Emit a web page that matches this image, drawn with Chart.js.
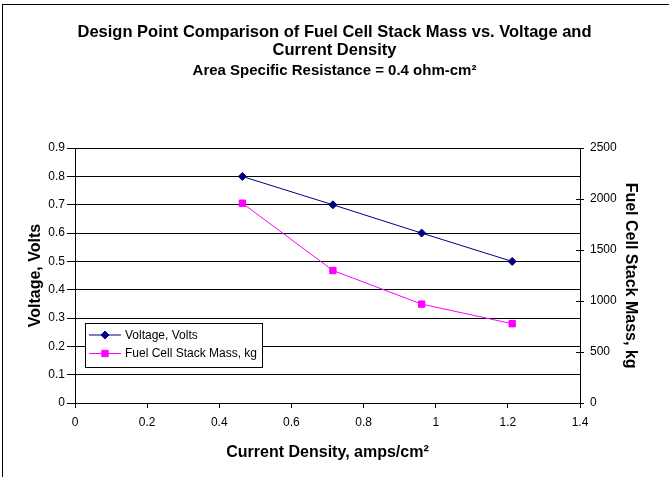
<!DOCTYPE html>
<html>
<head>
<meta charset="utf-8">
<script src="https://cdn.jsdelivr.net/npm/chart.js@4/dist/chart.umd.min.js"></script>
<style>
  html, body { margin: 0; padding: 0; background: #fff; }
  #wrap { width: 669px; height: 477px; position: relative; }
</style>
</head>
<body>
<div id="wrap"><canvas id="c" width="669" height="477"></canvas></div>
<script>
// ---- data ----
const titleLines = ["Design Point Comparison of Fuel Cell Stack Mass vs. Voltage and", "Current Density"];
const subtitleText = "Area Specific Resistance = 0.4 ohm-cm\u00B2";
const xAxisTitle = "Current Density, amps/cm\u00B2";
const yAxisTitle = "Voltage, Volts";
const y2AxisTitle = "Fuel Cell Stack Mass, kg";
const seriesNames = ["Voltage, Volts", "Fuel Cell Stack Mass, kg"];
const currentDensity = [0.464, 0.715, 0.961, 1.212];
const voltage = [0.8, 0.7, 0.6, 0.5];
const stackMass = [1960, 1300, 970, 778];

const FONT = "'Liberation Sans', Arial, sans-serif";
const fmt = v => String(Math.round(v * 1000) / 1000);

const framePlugin = {
  id: 'frame',
  beforeDraw(chart) {
    const ctx = chart.ctx;
    ctx.save();
    ctx.fillStyle = '#fff';
    ctx.fillRect(0, 0, chart.width, chart.height);
    ctx.restore();
  },
  afterDraw(chart) {
    const ctx = chart.ctx;
    ctx.save();
    ctx.strokeStyle = '#000';
    ctx.lineWidth = 1;
    ctx.strokeRect(2.5, 4.5, 720, 520);
    // inner halves of the crossing tick marks on the right axis
    const s = chart.scales.y2;
    ctx.beginPath();
    s.ticks.forEach(t => {
      const y = Math.round(s.getPixelForValue(t.value)) + 0.5;
      ctx.moveTo(s.left - 4, y);
      ctx.lineTo(s.left, y);
    });
    ctx.stroke();
    ctx.restore();
  }
};

const legendPlugin = {
  id: 'boxLegend',
  afterDatasetsDraw(chart) {
    const ctx = chart.ctx;
    const box = { x: 85.5, y: 323.5, w: 177, h: 44 };
    ctx.save();
    ctx.fillStyle = '#fff';
    ctx.fillRect(box.x, box.y, box.w, box.h);
    ctx.strokeStyle = '#000';
    ctx.lineWidth = 1;
    ctx.strokeRect(box.x, box.y, box.w, box.h);
    ctx.font = "12px " + FONT;
    ctx.textBaseline = 'middle';
    chart.data.datasets.forEach((ds, i) => {
      const cy = 335 + i * 18.5;
      ctx.strokeStyle = ds.borderColor;
      ctx.lineWidth = 1;
      ctx.beginPath();
      ctx.moveTo(89, cy);
      ctx.lineTo(121, cy);
      ctx.stroke();
      ctx.fillStyle = ds.pointBackgroundColor;
      ctx.strokeStyle = ds.pointBorderColor;
      Chart.helpers.drawPoint(ctx, {
        pointStyle: ds.pointStyle,
        radius: ds.pointRadius,
        borderWidth: 1,
        rotation: 0
      }, 105, cy);
      ctx.fillStyle = '#000';
      ctx.fillText(ds.label, 125, cy + 0.5);
    });
    ctx.restore();
  }
};

const chart = new Chart(document.getElementById('c'), {
  type: 'scatter',
  data: {
    datasets: [
      {
        label: seriesNames[0],
        data: currentDensity.map((x, i) => ({ x: x, y: voltage[i] })),
        yAxisID: 'y',
        showLine: true,
        borderColor: '#000080',
        backgroundColor: '#000080',
        pointBackgroundColor: '#000080',
        pointBorderColor: '#000080',
        borderWidth: 1,
        pointStyle: 'rectRot',
        pointRadius: 4,
        pointBorderWidth: 1,
        tension: 0
      },
      {
        label: seriesNames[1],
        data: currentDensity.map((x, i) => ({ x: x, y: stackMass[i] })),
        yAxisID: 'y2',
        showLine: true,
        borderColor: '#FF00FF',
        backgroundColor: '#FF00FF',
        pointBackgroundColor: '#FF00FF',
        pointBorderColor: '#FF00FF',
        borderWidth: 1,
        pointStyle: 'rect',
        pointRadius: 4.5,
        pointBorderWidth: 1,
        tension: 0
      }
    ]
  },
  options: {
    responsive: false,
    animation: false,
    devicePixelRatio: 1,
    layout: { padding: 0 },
    plugins: {
      legend: { display: false },
      tooltip: { enabled: false },
      title: {
        display: true,
        text: titleLines,
        color: '#000',
        font: { family: FONT, size: 16.5, weight: 'bold', lineHeight: 1.12 },
        padding: { top: 22.75, bottom: 2.6 }
      },
      subtitle: {
        display: true,
        text: subtitleText,
        color: '#000',
        font: { family: FONT, size: 15, weight: 'bold', lineHeight: 1.15 },
        padding: { top: 0, bottom: 68.6 }
      }
    },
    scales: {
      x: {
        type: 'linear',
        min: 0, max: 1.4,
        ticks: { stepSize: 0.2, color: '#000', font: { family: FONT, size: 12 }, padding: 7, callback: fmt },
        grid: { drawOnChartArea: false, drawTicks: true, tickLength: 5, color: '#000', tickColor: '#000' },
        border: { display: true, color: '#000', width: 1 },
        title: { display: true, text: xAxisTitle, color: '#000', font: { family: FONT, size: 16, weight: 'bold' }, padding: { top: 0, bottom: 14.9 } },
        afterFit(scale) { scale.height = 74; }
      },
      y: {
        type: 'linear',
        position: 'left',
        min: 0, max: 0.9,
        ticks: { stepSize: 0.1, color: '#000', font: { family: FONT, size: 12 }, padding: 2, callback: fmt },
        grid: { drawOnChartArea: true, drawTicks: true, tickLength: 8, color: '#000', tickColor: '#000', lineWidth: 1 },
        border: { display: true, color: '#000', width: 1 },
        title: { display: true, text: yAxisTitle, color: '#000', font: { family: FONT, size: 16, weight: 'bold' }, padding: { top: 25.5, bottom: 0 } },
        afterFit(scale) { scale.width = 75; }
      },
      y2: {
        type: 'linear',
        position: 'right',
        min: 0, max: 2500,
        ticks: { stepSize: 500, color: '#000', font: { family: FONT, size: 12 }, padding: 6, callback: fmt },
        grid: { drawOnChartArea: false, drawTicks: true, tickLength: 4, color: '#000', tickColor: '#000' },
        border: { display: true, color: '#000', width: 1 },
        title: { display: true, text: y2AxisTitle, color: '#000', font: { family: FONT, size: 16, weight: 'bold' }, padding: { top: 28.9, bottom: 0 } },
        afterFit(scale) { scale.width = 89; }
      }
    }
  },
  plugins: [framePlugin, legendPlugin]
});
</script>
</body>
</html>
